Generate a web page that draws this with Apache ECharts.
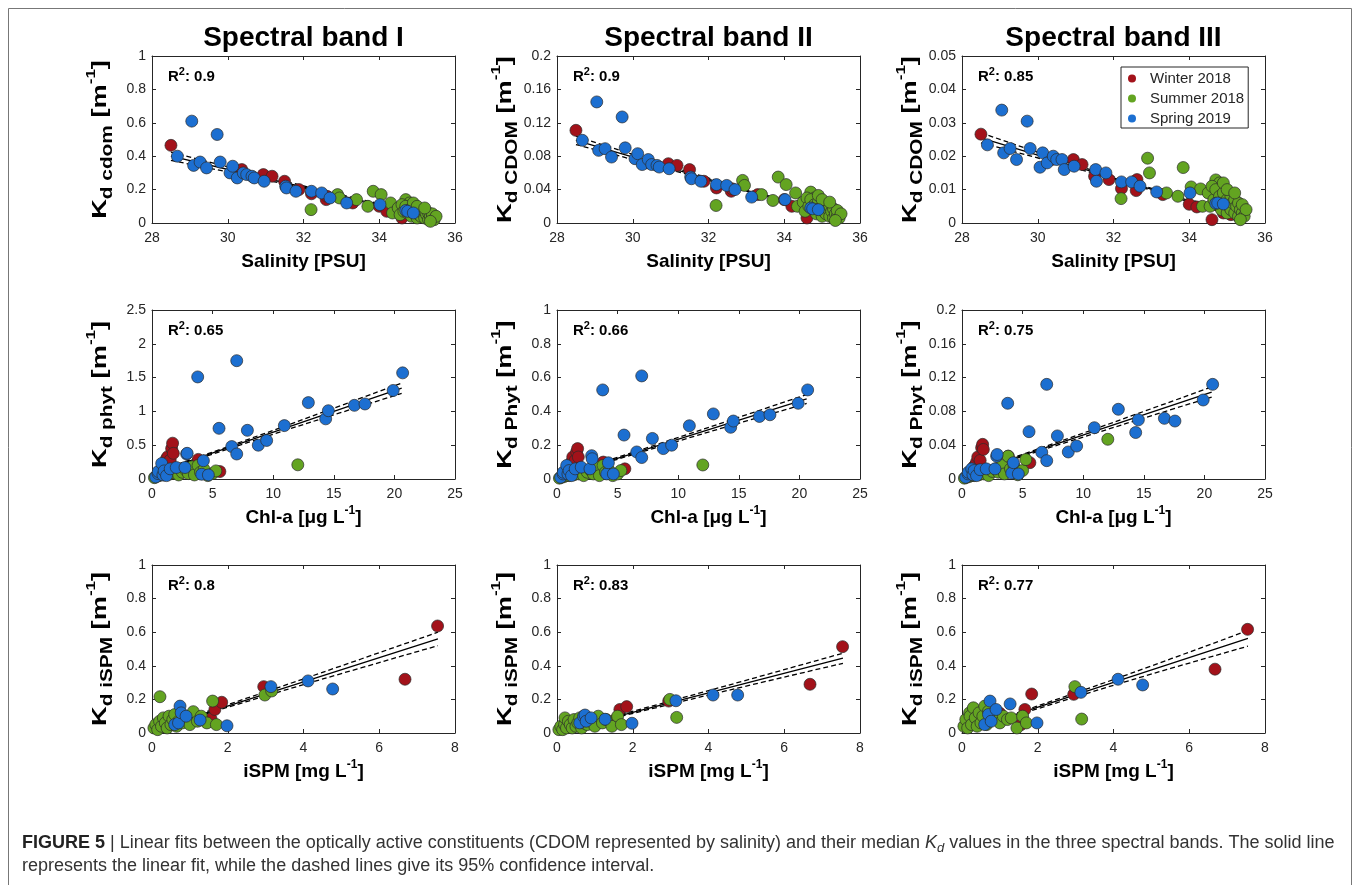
<!DOCTYPE html>
<html><head><meta charset="utf-8">
<script src="https://cdn.jsdelivr.net/npm/echarts/dist/echarts.min.js"></script>
<style>html,body{margin:0;padding:0;background:#fff}#c{width:1357px;height:885px}</style>
</head><body><div id="c"></div><script>
// ---------- DATA ----------
// Row 1: salinity [PSU] vs Kd CDOM (bands I, II, III)
const salWinter = [28.5, 30.37, 30.94, 31.17, 31.5, 31.88, 32.21, 32.6, 32.62, 33.3, 34.0, 34.2, 34.6, 34.9, 35.1, 35.3];
const cdomWinterI = [0.465, 0.32, 0.29, 0.28, 0.25, 0.20, 0.175, 0.14, 0.16, 0.12, 0.10, 0.07, 0.03, 0.05, 0.04, 0.03];
const cdomWinterII = [0.111, 0.072, 0.071, 0.069, 0.064, 0.05, 0.042, 0.038, 0.041, 0.034, 0.028, 0.02, 0.006, 0.012, 0.01, 0.008];
const cdomWinterIII = [0.0266, 0.019, 0.019, 0.0175, 0.014, 0.013, 0.0103, 0.0097, 0.013, 0.0085, 0.0056, 0.0048, 0.001, 0.003, 0.0025, 0.002];

const salSummer = [32.2, 32.9, 32.95, 33.4, 33.7, 33.84, 34.05, 34.3, 34.35, 34.7, 34.8, 34.5, 34.55, 34.6, 34.65, 34.7, 34.75, 34.8, 34.85, 34.9, 34.95, 35.0, 35.0, 35.05, 35.1, 35.1, 35.15, 35.2, 35.2, 35.25, 35.3, 35.3, 35.35, 35.4, 35.4, 35.45, 35.5, 34.9, 35.0, 35.2, 35.35];
const cdomSummerI = [0.08, 0.17, 0.15, 0.14, 0.10, 0.19, 0.17, 0.12, 0.06, 0.14, 0.12, 0.09, 0.05, 0.11, 0.07, 0.10, 0.06, 0.08, 0.04, 0.09, 0.06, 0.07, 0.03, 0.05, 0.08, 0.04, 0.06, 0.03, 0.07, 0.05, 0.02, 0.06, 0.04, 0.03, 0.055, 0.02, 0.04, 0.12, 0.10, 0.09, 0.01];
const cdomSummerII = [0.021, 0.051, 0.045, 0.034, 0.027, 0.055, 0.046, 0.036, 0.02, 0.037, 0.03, 0.025, 0.014, 0.03, 0.02, 0.028, 0.017, 0.022, 0.011, 0.025, 0.017, 0.02, 0.008, 0.014, 0.022, 0.011, 0.017, 0.008, 0.02, 0.014, 0.006, 0.017, 0.011, 0.008, 0.015, 0.006, 0.011, 0.033, 0.028, 0.025, 0.003];
const cdomSummerIII = [0.0073, 0.0194, 0.015, 0.009, 0.008, 0.0166, 0.0108, 0.0102, 0.005, 0.0129, 0.012, 0.009, 0.005, 0.011, 0.007, 0.01, 0.006, 0.008, 0.004, 0.009, 0.006, 0.007, 0.003, 0.005, 0.008, 0.004, 0.006, 0.003, 0.007, 0.005, 0.002, 0.006, 0.004, 0.003, 0.0055, 0.002, 0.004, 0.012, 0.01, 0.009, 0.001];

const salSpring = [28.67, 29.05, 29.1, 29.27, 29.44, 29.72, 29.8, 30.06, 30.13, 30.25, 30.41, 30.5, 30.64, 30.7, 30.96, 31.53, 31.55, 31.8, 32.21, 32.48, 32.7, 33.14, 34.02, 34.7, 34.75, 34.9];
const cdomSpringI = [0.40, 0.61, 0.345, 0.365, 0.33, 0.53, 0.365, 0.30, 0.34, 0.27, 0.30, 0.29, 0.28, 0.27, 0.25, 0.22, 0.21, 0.19, 0.19, 0.18, 0.15, 0.12, 0.11, 0.075, 0.07, 0.06];
const cdomSpringII = [0.099, 0.145, 0.087, 0.089, 0.079, 0.127, 0.09, 0.077, 0.083, 0.07, 0.076, 0.07, 0.069, 0.067, 0.065, 0.055, 0.053, 0.05, 0.046, 0.045, 0.04, 0.031, 0.028, 0.018, 0.017, 0.016];
const cdomSpringIII = [0.0234, 0.0338, 0.021, 0.0223, 0.019, 0.0305, 0.0223, 0.0167, 0.021, 0.018, 0.02, 0.019, 0.019, 0.016, 0.017, 0.016, 0.0125, 0.015, 0.0123, 0.0123, 0.011, 0.0093, 0.009, 0.0059, 0.006, 0.0057];

// Row 2: Chl-a [ug/L] vs Kd phyt
const chlWinter = [0.5, 0.8, 1.0, 1.2, 1.3, 1.5, 1.62, 1.7, 1.76, 3.82, 5.6];
const phytWinterI = [0.05, 0.1, 0.2, 0.3, 0.33, 0.28, 0.45, 0.53, 0.38, 0.29, 0.11];
const phytWinterII = [0.02, 0.04, 0.07, 0.1, 0.13, 0.11, 0.16, 0.18, 0.13, 0.1, 0.06];
const phytWinterIII = [0.004, 0.008, 0.015, 0.02, 0.026, 0.022, 0.037, 0.041, 0.035, 0.027, 0.0193];

const chlSummer = [0.2, 0.4, 0.6, 0.8, 1.0, 1.2, 1.4, 1.6, 1.8, 2.0, 2.2, 2.5, 2.8, 3.0, 3.3, 3.5, 3.8, 4.0, 4.3, 4.6, 5.0, 5.27, 12.03];
const phytSummerI = [0.02, 0.04, 0.05, 0.08, 0.06, 0.1, 0.07, 0.12, 0.09, 0.15, 0.06, 0.1, 0.13, 0.08, 0.18, 0.06, 0.2, 0.1, 0.14, 0.05, 0.08, 0.12, 0.21];
const phytSummerII = [0.005, 0.01, 0.015, 0.02, 0.02, 0.03, 0.025, 0.04, 0.03, 0.05, 0.02, 0.04, 0.05, 0.03, 0.07, 0.02, 0.08, 0.04, 0.05, 0.02, 0.03, 0.05, 0.083];
const phytSummerIII = [0.001, 0.002, 0.003, 0.004, 0.004, 0.006, 0.005, 0.008, 0.006, 0.01, 0.004, 0.009, 0.012, 0.008, 0.016, 0.006, 0.027, 0.012, 0.015, 0.005, 0.01, 0.023, 0.047];

const chlSpring = [0.3, 0.5, 0.52, 0.8, 0.9, 1.0, 1.2, 1.5, 2.0, 2.72, 2.86, 2.9, 3.77, 4.1, 4.24, 4.65, 5.53, 6.58, 6.99, 6.99, 7.87, 8.77, 9.46, 10.92, 12.9, 14.33, 14.55, 16.7, 17.57, 19.9, 20.68];
const phytSpringI = [0.03, 0.08, 0.11, 0.23, 0.06, 0.12, 0.05, 0.15, 0.17, 0.17, 0.37, 0.38, 1.51, 0.07, 0.27, 0.06, 0.75, 0.48, 1.75, 0.37, 0.72, 0.50, 0.57, 0.79, 1.13, 0.89, 1.01, 1.09, 1.11, 1.31, 1.57];
const phytSpringII = [0.01, 0.03, 0.04, 0.08, 0.03, 0.05, 0.02, 0.06, 0.07, 0.06, 0.138, 0.12, 0.527, 0.03, 0.096, 0.03, 0.26, 0.16, 0.61, 0.127, 0.24, 0.18, 0.2, 0.315, 0.385, 0.306, 0.343, 0.37, 0.38, 0.448, 0.527];
const phytSpringIII = [0.002, 0.006, 0.008, 0.012, 0.005, 0.01, 0.004, 0.011, 0.012, 0.012, 0.027, 0.029, 0.0896, 0.007, 0.0193, 0.006, 0.056, 0.0316, 0.112, 0.0217, 0.051, 0.032, 0.039, 0.0607, 0.0825, 0.055, 0.07, 0.0718, 0.0686, 0.0935, 0.112];

// Row 3: iSPM [mg/L] vs Kd iSPM
const spmWinter = [0.3, 0.6, 1.0, 1.56, 1.66, 1.84, 2.95, 6.68, 7.54];
const ispmWinterI = [0.04, 0.06, 0.09, 0.083, 0.14, 0.183, 0.276, 0.32, 0.637];
const ispmWinterII = [0.04, 0.05, 0.08, 0.083, 0.14, 0.157, 0.19, 0.29, 0.514];
const ispmWinterIII = [0.05, 0.07, 0.117, 0.05, 0.14, 0.232, 0.23, 0.38, 0.617];

const spmSummer = [0.05, 0.1, 0.15, 0.2, 0.21, 0.25, 0.3, 0.35, 0.4, 0.45, 0.5, 0.55, 0.6, 0.65, 0.7, 0.8, 0.9, 1.0, 1.09, 1.2, 1.3, 1.45, 1.6, 1.7, 2.98, 3.16];
const ispmSummerI = [0.03, 0.05, 0.02, 0.07, 0.216, 0.04, 0.09, 0.06, 0.03, 0.1, 0.05, 0.08, 0.11, 0.04, 0.07, 0.06, 0.09, 0.05, 0.127, 0.07, 0.1, 0.06, 0.19, 0.05, 0.226, 0.25];
const ispmSummerII = [0.02, 0.04, 0.02, 0.05, 0.09, 0.03, 0.07, 0.05, 0.03, 0.08, 0.04, 0.06, 0.09, 0.03, 0.06, 0.05, 0.07, 0.04, 0.1, 0.06, 0.08, 0.04, 0.1, 0.05, 0.2, 0.093];
const ispmSummerIII = [0.04, 0.08, 0.03, 0.12, 0.1, 0.05, 0.15, 0.09, 0.04, 0.12, 0.06, 0.1, 0.16, 0.05, 0.13, 0.08, 0.11, 0.06, 0.1, 0.08, 0.09, 0.03, 0.1, 0.06, 0.276, 0.083];

const spmSpring = [0.6, 0.7, 0.74, 0.77, 0.9, 1.27, 1.98, 3.14, 4.12, 4.77];
const ispmSpringI = [0.05, 0.06, 0.16, 0.12, 0.1, 0.077, 0.043, 0.276, 0.31, 0.262];
const ispmSpringII = [0.06, 0.1, 0.107, 0.07, 0.09, 0.082, 0.058, 0.192, 0.226, 0.226];
const ispmSpringIII = [0.05, 0.11, 0.19, 0.07, 0.14, 0.173, 0.06, 0.242, 0.32, 0.286];

// Linear fits (solid) and 95% confidence bounds (dashed)
const salFitX = [28.5, 31, 33.5, 35.5];
const cdomFitI = [0.40, 0.268, 0.136, 0.03], cdomUpI = [0.425, 0.278, 0.142, 0.04], cdomLoI = [0.375, 0.258, 0.130, 0.02];
const cdomFitII = [0.099, 0.0658, 0.0326, 0.006], cdomUpII = [0.104, 0.0678, 0.0336, 0.0085], cdomLoII = [0.094, 0.0638, 0.0316, 0.0035];
const cdomFitIII = [0.0255, 0.0169, 0.0084, 0.0015], cdomUpIII = [0.027, 0.0174, 0.0087, 0.0022], cdomLoIII = [0.024, 0.0164, 0.0081, 0.0008];

const chlFitX = [0.2, 4, 12, 20.6];
const phytFitI = [0.088, 0.322, 0.814, 1.343], phytUpI = [0.11, 0.335, 0.85, 1.42], phytLoI = [0.066, 0.309, 0.778, 1.266];
const phytFitII = [0.0145, 0.10, 0.28, 0.4735], phytUpII = [0.022, 0.105, 0.293, 0.50], phytLoII = [0.007, 0.095, 0.267, 0.447];
const phytFitIII = [0.005, 0.0232, 0.0616, 0.1029], phytUpIII = [0.0065, 0.0242, 0.0645, 0.109], phytLoIII = [0.0035, 0.0222, 0.0587, 0.097];

const spmFitX = [0.05, 1, 4, 7.55];
const ispmFitI = [0.0206, 0.089, 0.305, 0.5606], ispmUpI = [0.03, 0.094, 0.322, 0.60], ispmLoI = [0.011, 0.084, 0.288, 0.52];
const ispmFitII = [0.0099, 0.065, 0.239, 0.445], ispmUpII = [0.016, 0.069, 0.252, 0.475], ispmLoII = [0.004, 0.061, 0.226, 0.415];
const ispmFitIII = [0.0087, 0.079, 0.301, 0.5637], ispmUpIII = [0.018, 0.085, 0.318, 0.61], ispmLoIII = [0.0, 0.073, 0.284, 0.517];

const r2Labels = ['0.9', '0.9', '0.85', '0.65', '0.66', '0.75', '0.8', '0.83', '0.77'];
const seasonNames = ['Winter 2018', 'Summer 2018', 'Spring 2019'];
const bandTitles = ['Spectral band I', 'Spectral band II', 'Spectral band III'];
const xNames = ['Salinity [PSU]', 'Chl-a [μg L{p|-1}]', 'iSPM [mg L{p|-1}]'];
const ySubs = [['cdom', 'CDOM', 'CDOM'], ['phyt', 'Phyt', 'Phyt'], ['iSPM', 'iSPM', 'iSPM']];
const xTicks = [{min: 28, max: 36, interval: 2}, {min: 0, max: 25, interval: 5}, {min: 0, max: 8, interval: 2}];
const yTicks = [
  [{max: 1, interval: 0.2}, {max: 0.2, interval: 0.04}, {max: 0.05, interval: 0.01}],
  [{max: 2.5, interval: 0.5}, {max: 1, interval: 0.2}, {max: 0.2, interval: 0.04}],
  [{max: 1, interval: 0.2}, {max: 1, interval: 0.2}, {max: 1, interval: 0.2}]
];

// ---------- ASSEMBLY ----------
const rowX = [
  [salWinter, salSummer, salSpring],
  [chlWinter, chlSummer, chlSpring],
  [spmWinter, spmSummer, spmSpring]
];
const panelY = [
  [[cdomWinterI, cdomSummerI, cdomSpringI], [cdomWinterII, cdomSummerII, cdomSpringII], [cdomWinterIII, cdomSummerIII, cdomSpringIII]],
  [[phytWinterI, phytSummerI, phytSpringI], [phytWinterII, phytSummerII, phytSpringII], [phytWinterIII, phytSummerIII, phytSpringIII]],
  [[ispmWinterI, ispmSummerI, ispmSpringI], [ispmWinterII, ispmSummerII, ispmSpringII], [ispmWinterIII, ispmSummerIII, ispmSpringIII]]
];
const fitXs = [salFitX, chlFitX, spmFitX];
const fits = [
  [[cdomFitI, cdomUpI, cdomLoI], [cdomFitII, cdomUpII, cdomLoII], [cdomFitIII, cdomUpIII, cdomLoIII]],
  [[phytFitI, phytUpI, phytLoI], [phytFitII, phytUpII, phytLoII], [phytFitIII, phytUpIII, phytLoIII]],
  [[ispmFitI, ispmUpI, ispmLoI], [ispmFitII, ispmUpII, ispmLoII], [ispmFitIII, ispmUpIII, ispmLoIII]]
];

const FONT = '"Liberation Sans", Arial, Helvetica, sans-serif';
const AX = '#262626';
const COLORS = ['#A3121A', '#63A421', '#1C6FD1'];
const GL = [152, 557, 962], GT = [56, 310, 565], GW = 303, GH = [167, 169, 168];

const grid = [], xAxis = [], yAxis = [], series = [], graphic = [];

graphic.push({type: 'rect', z: 0, silent: true, shape: {x: 8.5, y: 8.5, width: 1343, height: 900},
  style: {fill: 'none', stroke: '#777', lineWidth: 1}});

for (let r = 0; r < 3; r++) {
  for (let c = 0; c < 3; c++) {
    const i = r * 3 + c;
    grid.push({left: GL[c], top: GT[r], width: GW, height: GH[r], show: false});
    const xt = xTicks[r], yt = yTicks[r][c];
    const common = {type: 'value', gridIndex: i, splitLine: {show: false},
      axisLine: {show: true, onZero: false, lineStyle: {color: AX, width: 1}},
      axisTick: {show: true, inside: true, length: 4, lineStyle: {color: AX}}};
    xAxis.push(Object.assign({}, common, {min: xt.min, max: xt.max, interval: xt.interval, position: 'bottom',
      axisLabel: {fontSize: 14, color: AX, fontFamily: FONT, margin: 8}}));
    xAxis.push(Object.assign({}, common, {min: xt.min, max: xt.max, interval: xt.interval, position: 'top',
      axisLabel: {show: false}}));
    yAxis.push(Object.assign({}, common, {min: 0, max: yt.max, interval: yt.interval, position: 'left',
      axisLabel: {fontSize: 14, color: AX, fontFamily: FONT, margin: 6}}));
    yAxis.push(Object.assign({}, common, {min: 0, max: yt.max, interval: yt.interval, position: 'right',
      axisLabel: {show: false}}));

    // fit line and 95% confidence bounds (drawn beneath the markers)
    const fx = fitXs[r];
    fits[r][c].forEach((arr, k) => {
      series.push({
        type: 'line', xAxisIndex: 2 * i, yAxisIndex: 2 * i, silent: true,
        data: fx.map((x, j) => [x, arr[j]]), showSymbol: false, symbol: 'none', smooth: k === 0 ? false : 0.3,
        z: 1, lineStyle: {color: '#000', width: 1.3, type: k === 0 ? 'solid' : [5, 3]}
      });
    });
    for (let s = 0; s < 3; s++) {
      const xs = rowX[r][s], ys = panelY[r][c][s];
      series.push({
        type: 'scatter', name: seasonNames[s], xAxisIndex: 2 * i, yAxisIndex: 2 * i,
        data: xs.map((x, k) => [x, ys[k]]),
        symbol: 'circle', symbolSize: 12, z: 2 + s,
        itemStyle: {color: COLORS[s], borderColor: '#2b2b2b', borderWidth: 0.7, opacity: 1},
        silent: true
      });
    }

    // R^2 label
    graphic.push({type: 'text', z: 50, x: GL[c] + 16, y: GT[r] + 21, silent: true,
      style: {text: '{r|R}{s|2}{r|: ' + r2Labels[i] + '}', align: 'left', verticalAlign: 'middle',
        rich: {
          r: {fontSize: 15, fontWeight: 'bold', fontFamily: FONT, fill: '#000', lineHeight: 22},
          s: {fontSize: 11, fontWeight: 'bold', fontFamily: FONT, fill: '#000', lineHeight: 13, verticalAlign: 'top'}
        }}});
    // y axis name (stretched along its length like the reference)
    graphic.push({type: 'text', z: 50, x: GL[c] - 52, y: GT[r] + GH[r] / 2, rotation: Math.PI / 2,
      scaleX: 1.3, silent: true,
      style: {text: '{k|K}{s|d ' + ySubs[r][c] + '}{k| [m}{p|-1}{k|]}', align: 'center', verticalAlign: 'middle',
        rich: {
          k: {fontSize: 21, fontWeight: 'bold', fontFamily: FONT, fill: '#000', lineHeight: 31},
          s: {fontSize: 16, fontWeight: 'bold', fontFamily: FONT, fill: '#000', lineHeight: 16, verticalAlign: 'bottom'},
          p: {fontSize: 13, fontWeight: 'bold', fontFamily: FONT, fill: '#000', lineHeight: 14, verticalAlign: 'top'}
        }}});
    // x axis name
    graphic.push({type: 'text', z: 50, x: GL[c] + GW / 2, y: GT[r] + GH[r] + 39, silent: true,
      style: {text: '{k|' + xNames[r].replace('{p|-1}', '}{p|-1}{k|') + '}', align: 'center', verticalAlign: 'middle',
        rich: {
          k: {fontSize: 19, fontWeight: 'bold', fontFamily: FONT, fill: '#000', lineHeight: 26},
          p: {fontSize: 12, fontWeight: 'bold', fontFamily: FONT, fill: '#000', lineHeight: 14, verticalAlign: 'top'}
        }}});
  }
}

// band titles
bandTitles.forEach((t, c) => graphic.push({type: 'text', z: 50, x: GL[c] + GW / 2, y: 38, silent: true,
  style: {text: t, align: 'center', verticalAlign: 'middle', fontSize: 28, fontWeight: 'bold', fontFamily: FONT, fill: '#000'}}));

// caption
const capRich = {
  b: {fontSize: 18, fontWeight: 'bold', fontFamily: FONT, fill: '#222', lineHeight: 24},
  n: {fontSize: 18, fontFamily: FONT, fill: '#333', lineHeight: 24},
  i: {fontSize: 18, fontStyle: 'italic', fontFamily: FONT, fill: '#333', lineHeight: 24},
  d: {fontSize: 13, fontStyle: 'italic', fontFamily: FONT, fill: '#333', lineHeight: 14, verticalAlign: 'bottom'}
};
graphic.push({type: 'text', z: 50, x: 22, y: 843, scaleX: 1.0, silent: true,
  style: {align: 'left', verticalAlign: 'middle', rich: capRich,
    text: '{b|FIGURE 5}{n| | Linear fits between the optically active constituents (CDOM represented by salinity) and their median }{i|K}{d|d}{n| values in the three spectral bands. The solid line}'}});
graphic.push({type: 'text', z: 50, x: 22, y: 866, scaleX: 1.0, silent: true,
  style: {align: 'left', verticalAlign: 'middle', rich: capRich,
    text: '{n|represents the linear fit, while the dashed lines give its 95% confidence interval.}'}});

const option = {
  animation: false,
  backgroundColor: '#fff',
  grid, xAxis, yAxis, series, graphic,
  legend: {
    data: seasonNames, orient: 'vertical', left: 1121, top: 67,
    padding: [4, 4, 2, 7], itemGap: 5, itemWidth: 26, itemHeight: 8, icon: 'circle',
    itemStyle: {borderWidth: 0},
    borderColor: '#262626', borderWidth: 1, backgroundColor: '#fff',
    textStyle: {fontSize: 15, fontFamily: FONT, color: '#262626', lineHeight: 15},
    selectedMode: false, z: 20
  }
};
echarts.init(document.getElementById('c'), null, {renderer: 'canvas'}).setOption(option);
</script></body></html>
